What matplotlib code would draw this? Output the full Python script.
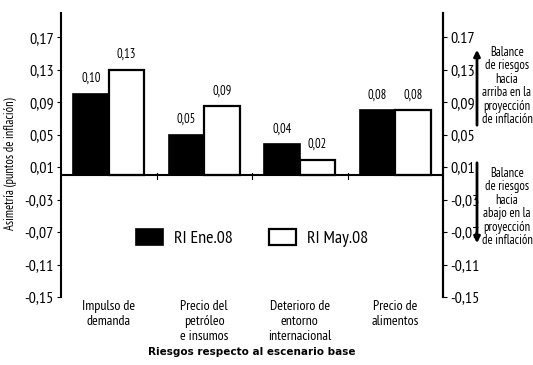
import matplotlib
matplotlib.use('Agg')
import matplotlib.pyplot as plt
import numpy as np

# ── Data ───────────────────────────────────────────────────────────────────
categories = ['Impulso de\ndemanda', 'Precio del\npetróleo\ne insumos',
              'Deterioro de\nentorno\ninternacional', 'Precio de\nalimentos']
ri_ene = [0.100, 0.050, 0.038, 0.080]
ri_may = [0.130, 0.085, 0.019, 0.080]
lbl_ene = ['0,10', '0,05', '0,04', '0,08']
lbl_may = ['0,13', '0,09', '0,02', '0,08']
yticks = [0.17, 0.13, 0.09, 0.05, 0.01, -0.03, -0.07, -0.11, -0.15]
yticklabels_left = ['0,17', '0,13', '0,09', '0,05', '0,01', '-0,03', '-0,07', '-0,11', '-0,15']
yticklabels_right = ['0.17', '0,13', '0,09', '0,05', '0,01', '-0,03', '-0,07', '-0,11', '-0,15']
note_up = 'Balance\nde riesgos\nhacia\narriba en la\nproyección\nde inflación'
note_down = 'Balance\nde riesgos\nhacia\nabajo en la\nproyección\nde inflación'

plt.rcParams['font.family'] = ['PT Sans Narrow', 'DejaVu Sans']

W, H = 533, 365
fig = plt.figure(figsize=(W / 100, H / 100), dpi=100)
ax = fig.add_axes([61 / W, 1 - 297 / H, (443 - 61) / W, (297 - 13) / H])

x = np.arange(len(categories))
bw = 0.37
b1 = ax.bar(x - bw / 2, ri_ene, bw, color='black', edgecolor='black', lw=1.2, label='RI Ene.08')
b2 = ax.bar(x + bw / 2, ri_may, bw, color='white', edgecolor='black', lw=1.6, label='RI May.08')

for rects, labels in [(b1, lbl_ene), (b2, lbl_may)]:
    for r, t in zip(rects, labels):
        ax.annotate(t, (r.get_x() + r.get_width() / 2, r.get_height()),
                    xytext=(0, 6.5), textcoords='offset points',
                    ha='center', va='bottom', fontsize=9)

ax.set_xlim(-0.5, 3.5)
ax.set_ylim(-0.15, 0.2)
ax.axhline(0, color='black', lw=1.5)

# small ticks at category boundaries on the zero line
for xb in [0.5, 1.5, 2.5]:
    ax.plot([xb, xb], [-0.004, 0.003], color='black', lw=0.8)

ax.spines['top'].set_visible(False)
ax.spines['bottom'].set_visible(False)
ax.spines['left'].set_linewidth(1.5)
ax.spines['right'].set_linewidth(1.5)
ax.set_yticks(yticks)
ax.set_yticklabels(yticklabels_left, fontsize=11.5)
ax.tick_params(axis='y', length=3, width=0.8, pad=2)
ax.set_xticks(x)
ax.set_xticklabels(categories, fontsize=10, linespacing=1.2)
ax.tick_params(axis='x', length=0, pad=2)
ax.set_ylabel('Asimetría (puntos de inflación)', fontsize=9)
ax.yaxis.set_label_coords(-0.115, 0.47)

ax2 = ax.twinx()
ax2.set_ylim(ax.get_ylim())
ax2.set_yticks(yticks)
ax2.set_yticklabels(yticklabels_right, fontsize=11.5)
ax2.tick_params(axis='y', length=3, width=0.8, pad=2)
for s in ['top', 'bottom', 'left']:
    ax2.spines[s].set_visible(False)
ax2.spines['right'].set_linewidth(1.5)

ax.set_xlabel('Riesgos respecto al escenario base', fontsize=7.5,
              fontweight='bold', family='DejaVu Sans', labelpad=3)

leg = ax.legend(loc='center', bbox_to_anchor=(0.5, 0.208), ncol=2, frameon=False,
                fontsize=13, handlelength=1.5, handleheight=1.0,
                columnspacing=2.0, handletextpad=0.6)

# side notes with arrows
ax.annotate('', xy=(477 / W, 1 - 47 / H), xytext=(477 / W, 1 - 128 / H),
            xycoords='figure fraction',
            arrowprops=dict(arrowstyle='-|>', color='black', lw=2, mutation_scale=9))
ax.annotate('', xy=(477 / W, 1 - 246 / H), xytext=(477 / W, 1 - 160 / H),
            xycoords='figure fraction',
            arrowprops=dict(arrowstyle='-|>', color='black', lw=2, mutation_scale=9))
fig.text(507 / W, 1 - 86 / H, note_up, ha='center', va='center', fontsize=9, linespacing=1.05)
fig.text(507 / W, 1 - 207 / H, note_down, ha='center', va='center', fontsize=9, linespacing=1.05)

fig.savefig('out.png', dpi=100)
